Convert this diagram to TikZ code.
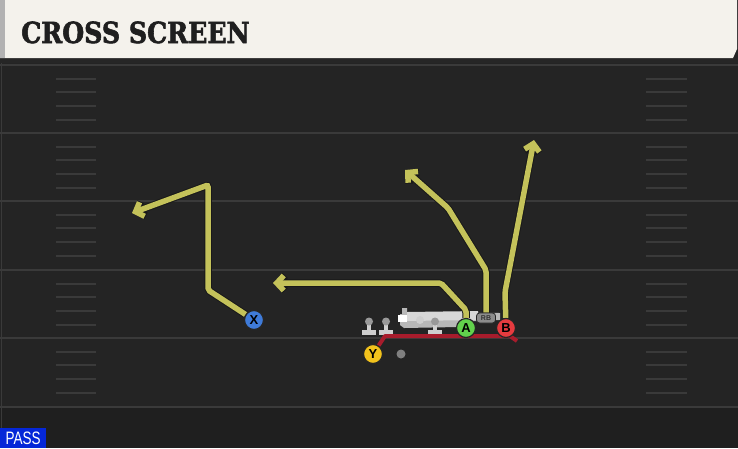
\documentclass[tikz,border=0pt]{standalone}
\usepackage{fontspec}
\usetikzlibrary{arrows.meta}
\newfontfamily\titlefont[FakeBold=2.2]{DejaVu Serif}
\newfontfamily\labelfont{Liberation Sans}

\definecolor{field}{HTML}{242424}
\definecolor{fieldlow}{HTML}{1F1F1F}
\definecolor{yardline}{HTML}{3A3A3A}
\definecolor{cream}{HTML}{F4F2EC}
\definecolor{routeyellow}{HTML}{C4C25A}
\definecolor{blockred}{HTML}{A81C2C}
\definecolor{xblue}{HTML}{3F7BD9}
\definecolor{agreen}{HTML}{62D24C}
\definecolor{bred}{HTML}{E63B3F}
\definecolor{yyellow}{HTML}{F2C21C}
\definecolor{passblue}{HTML}{0527D8}
\definecolor{lineman}{HTML}{CFCFCF}

\pgfdeclarelayer{front}
\pgfsetlayers{main,front}

\tikzset{
    player/.style={circle, draw=black!85, line width=1.2pt, minimum size=19pt, inner sep=0pt,
        font=\labelfont\bfseries\fontsize{13}{13}\selectfont},
    route/.style={draw=routeyellow, line width=5.5pt, rounded corners=2pt,
        -{Straight Barb[length=7pt,width=15pt,line width=5.5pt]},
        preaction={draw=black!90, line width=7.5pt,
        -{Straight Barb[length=7pt,width=15pt,line width=7.5pt]}}},
    hash/.style={draw=yardline, line width=2pt},
}

\begin{document}
\begin{tikzpicture}[x=1pt,y=-1pt]
    \useasboundingbox (0,0) rectangle (738,448);
    \fill[field] (0,0) rectangle (738,448);
    \fill[fieldlow] (0,408) rectangle (738,448);
    \draw[yardline, line width=1pt] (1.5,63) -- (1.5,448);

    % yard lines and hash marks
    \foreach \y in {65,133,201,270,338,407}{
            {\draw[yardline, line width=2pt] (0,\y) -- (738,\y);}
    }
    \foreach \y in {65,133,201,270,338}{
        \foreach \d in {14,27,41,55}{
            {\draw[hash] (56,\y+\d) -- (96,\y+\d);}
            {\draw[hash] (646,\y+\d) -- (687,\y+\d);}
        }
    }

    % header
    \fill[black!85] (0,58) rectangle (738,63);
    \fill[cream] (0,0) -- (737,0) -- (737,49) -- (733,58) -- (0,58) -- cycle;
    \fill[black!30] (0,0) rectangle (5,58);
    \node[anchor=base west, inner sep=0pt, text=black!88,
        font=\titlefont\bfseries\fontsize{29}{29}\selectfont] (title) at (21,43)
        {\scalebox{0.87}[1]{CROSS SCREEN}};

    % players
    \begin{pgfonlayer}{front}
        \node[player, fill=xblue] (X) at (254,320) {X};
        \node[player, fill=agreen] (A) at (466,328) {A};
        \node[player, fill=bred] (B) at (506,328) {B};
        \node[player, fill=yyellow] (Y) at (373,354) {Y};
        \node[draw=black!85, fill=black!45, rounded corners=3pt, line width=0.8pt,
            minimum width=19pt, minimum height=10pt, inner sep=0pt,
            font=\labelfont\bfseries\fontsize{7}{7}\selectfont, text=black!80] (RB) at (486,318) {RB};
    \end{pgfonlayer}

    % backfield and line
    \fill[black!28] (402,308) -- (407,308) -- (407,312) -- (500,313) -- (500,320)
        -- (458,322) -- (458,327) -- (404,328) -- (400,325) -- (400,314) -- (402,314) -- cycle;
    \fill[lineman!80!white] (407,312) -- (478,311) -- (478,320) -- (407,321) -- cycle;
    \fill[white] (398,315) rectangle (407,322);
    \fill[lineman] (420,320) circle (4);
    \foreach \x in {369,386,435}{
            {\fill[lineman] (\x-7,330) rectangle (\x+7,335);}
            {\fill[lineman] (\x-2,324) rectangle (\x+2,331);}
            {\fill[black!40] (\x,321.5) circle (4);}
    }
    \fill[black!50] (401,354) circle (4.5);

    % protection
    \coordinate (y1) at (385,336);
    \coordinate (y2) at (510,336);
    \coordinate (y3) at (517,341);
    \draw[blockred, line width=4pt, line join=round] (Y) -- (y1) -- (y2) -- (y3);

    % routes
    \coordinate (x1) at (208,290);
    \coordinate (x2) at (208,185);
    \coordinate (x3) at (132,213);
    \draw[route] (X) -- (x1) -- (x2) -- (x3);

    \coordinate (a1) at (466,310);
    \coordinate (a2) at (441,283);
    \coordinate (a3) at (273,283);
    \draw[route] (A) -- (a1) -- (a2) -- (a3);

    \coordinate (r1) at (486,270);
    \coordinate (r2) at (448,208);
    \coordinate (r3) at (405,170);
    \draw[route] (RB) -- (r1) -- (r2) -- (r3);

    \coordinate (b1) at (505,292);
    \coordinate (b2) at (534,140);
    \draw[route] (B) -- (b1) -- (b2);

    % play type
    \node[fill=passblue, text=white, anchor=south west, inner sep=0pt,
        minimum width=46pt, minimum height=20pt,
        font=\labelfont\fontsize{18}{18}\selectfont] (pass) at (0,448)
        {\scalebox{0.75}[1]{PASS}};
\end{tikzpicture}
\end{document}
